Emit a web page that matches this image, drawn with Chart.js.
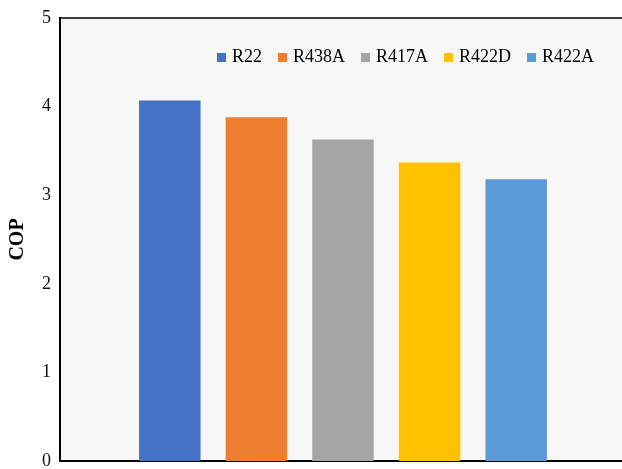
<!DOCTYPE html>
<html>
<head>
<meta charset="utf-8">
<title>COP</title>
<script src="https://cdn.jsdelivr.net/npm/chart.js@4.4.1/dist/chart.umd.min.js"></script>
<style>
  html, body { margin: 0; padding: 0; background: #fff; overflow: hidden; }
  #wrap { width: 626px; height: 479px; }
</style>
</head>
<body>
<div id="wrap"><canvas id="grafico-cop"></canvas></div>
<script>
// Dados do gráfico
const refrigerantes = ['R22', 'R438A', 'R417A', 'R422D', 'R422A'];
const valoresCop = [4.07, 3.88, 3.63, 3.37, 3.18];
const cores = ['#4472C4', '#ED7D31', '#A5A5A5', '#FFC000', '#5B9BD5'];
const ticksY = [0, 1, 2, 3, 4, 5];

const fonte = '"Liberation Serif", "Times New Roman", serif';

/**
 * Fundo cinza claro da área do gráfico + linha superior
 */
const fundoArea = {
    id: 'fundoArea',
    beforeDraw(chart) {
        const { ctx, chartArea: a } = chart;
        ctx.save();
        ctx.fillStyle = '#f7f7f7';
        ctx.fillRect(a.left, a.top, a.right - a.left, a.bottom - a.top);
        ctx.restore();
    },
    afterDraw(chart) {
        const { ctx, chartArea: a } = chart;
        ctx.save();
        ctx.strokeStyle = '#000';
        ctx.lineWidth = 1.5;
        ctx.beginPath();
        ctx.moveTo(a.left, a.top);
        ctx.lineTo(a.right, a.top);
        ctx.stroke();
        ctx.restore();
    }
};

/**
 * Legenda desenhada dentro da área do gráfico
 */
const legendaInterna = {
    id: 'legendaInterna',
    afterDraw(chart) {
        const { ctx, chartArea: a } = chart;
        ctx.save();
        ctx.font = '18px ' + fonte;
        ctx.textBaseline = 'alphabetic';
        let x = a.left + 157;
        const yBase = a.top + 44;
        chart.data.datasets.forEach(ds => {
            ctx.fillStyle = ds.backgroundColor;
            ctx.fillRect(x, yBase - 9, 9, 9);
            ctx.fillStyle = '#000';
            ctx.fillText(ds.label, x + 15, yBase);
            x += 15 + ctx.measureText(ds.label).width + 16;
        });
        ctx.restore();
    }
};

const graficoCop = new Chart(document.getElementById('grafico-cop'), {
    type: 'bar',
    data: {
        labels: [''],
        datasets: refrigerantes.map((nome, i) => ({
            label: nome,
            data: [valoresCop[i]],
            backgroundColor: cores[i],
            borderWidth: 0
        }))
    },
    options: {
        responsive: true,
        maintainAspectRatio: false,
        animation: false,
        barPercentage: 0.71,
        categoryPercentage: 0.765,
        layout: {
            padding: { top: 16, right: 0, bottom: 0, left: 0 }
        },
        scales: {
            x: {
                grid: { display: false, drawTicks: false },
                ticks: { display: false },
                border: { display: true, color: '#000', width: 2 }
            },
            y: {
                min: ticksY[0],
                max: ticksY[ticksY.length - 1],
                afterBuildTicks: scale => {
                    scale.ticks = ticksY.map(v => ({ value: v }));
                },
                afterFit: scale => {
                    scale.width = 60;
                },
                grid: { display: false, drawTicks: false },
                border: { display: true, color: '#000', width: 2 },
                ticks: {
                    padding: 9,
                    color: '#111',
                    font: { family: fonte, size: 18, lineHeight: 1 }
                },
                title: {
                    display: true,
                    text: 'COP',
                    color: '#000',
                    padding: { top: 6, bottom: 4 },
                    font: { family: fonte, size: 20, weight: 'bold' }
                }
            }
        },
        plugins: {
            legend: { display: false },
            tooltip: { enabled: false }
        }
    },
    plugins: [fundoArea, legendaInterna]
});
</script>
</body>
</html>
